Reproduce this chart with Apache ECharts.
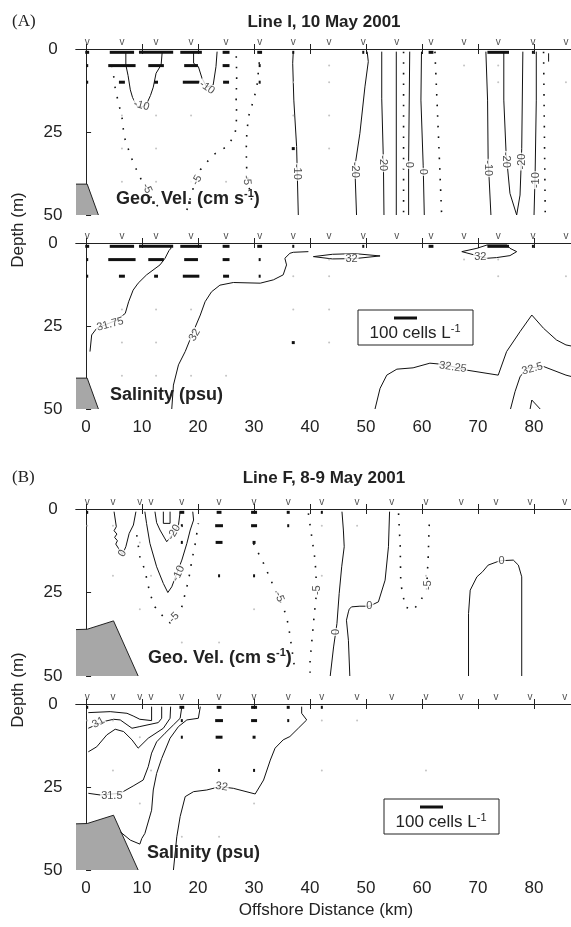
<!DOCTYPE html>
<html>
<head>
<meta charset="utf-8">
<script src="https://cdn.jsdelivr.net/npm/echarts@6/dist/echarts.min.js"></script>
<style>
  html, body { margin: 0; padding: 0; background: #fff; }
  #chart { width: 571px; height: 927px; }
</style>
</head>
<body>
<div id="chart"></div>
<script>
const FONT = 'Liberation Sans, Arial, Helvetica, sans-serif'

// axes
const xTicks = [0, 10, 20, 30, 40, 50, 60, 70, 80]
const xMin = -1.8
const xMax = 86.6
const depthMax = 50
const KM_PER_100_CELLS = 4.1

// station positions (km)
const stationsI = [0.2, 6.4, 12.5, 18.75, 25, 31, 37, 43.4, 49.5, 55.5, 61.6, 67.5, 73.6, 79.8, 85.7]
const stationsF = [0.2, 4.8, 9.6, 11.6, 17.1, 23.75, 30, 36.1, 42.1, 48.4, 54.6, 60.7, 67, 73.2, 79.3, 85.5]

// bottom profile [km, depth]
const bottomI = [[-1.8, 40.7], [0.2, 40.7], [2.2, 50]]
const bottomF = [[-1.8, 36.1], [0.2, 36], [4.9, 33.5], [9.3, 50]]

// cell counts [km, depth, cells per L]
const cellsI = [[0.2, 1, 17], [0.2, 5, 6], [0.2, 10, 8], [6.4, 1, 106], [6.4, 5, 119], [6.4, 10, 26],
  [12.5, 1, 149], [12.5, 5, 68], [12.5, 10, 17], [18.75, 1, 94], [18.75, 5, 60], [18.75, 10, 72],
  [25, 1, 30], [25, 5, 30], [25, 10, 26], [31, 1, 21], [31, 5, 4], [31, 10, 4], [37, 1, 8], [37, 30, 13],
  [49.5, 1, 8], [61.6, 1, 21], [73.6, 1, 94], [79.8, 1, 6]]
const cellsF = [[0.2, 1, 6], [17.1, 1, 21], [17.1, 5, 4], [17.1, 10, 4], [23.75, 1, 21], [23.75, 5, 34],
  [23.75, 10, 30], [23.75, 20, 6], [30, 1, 26], [30, 5, 26], [30, 10, 13], [30, 20, 5], [36.1, 1, 13],
  [36.1, 5, 6], [42.1, 1, 6]]

// empty samples [km, depth]
const samplesI = [[6.4, 20], [12.5, 20], [18.75, 20], [6.4, 30], [12.5, 30], [6.4, 40], [12.5, 40], [18.75, 40],
  [25, 40], [37, 10], [37, 20], [43.4, 5], [43.4, 10], [43.4, 20], [43.4, 30], [67.5, 5], [73.6, 5], [73.6, 10], [85.7, 10]]
const samplesF = [[0.2, 5], [4.8, 5], [9.6, 10], [11.6, 20], [9.6, 30], [17.1, 40], [23.75, 40], [30, 30],
  [42.1, 1], [42.1, 5], [42.1, 20], [48.4, 5], [60.7, 20], [4.8, 20]]

// Line I geostrophic velocity contours [km, depth]
const velI_a = [[7.1, 0.8], [7.1, 4.8], [7.5, 8], [7.9, 12.3], [8.3, 14.6], [9.05, 17.2], [10, 17.5], [10.8, 16.6], [11.5, 14], [12, 11.5], [12.5, 7.3], [13.4, 4.8], [13.6, 0.8]]
const velI_b = [[19.2, 0.8], [19.2, 4.3], [20.05, 5.3], [20.7, 8.8], [21.55, 11.5], [22.7, 10.8], [23.2, 5.3], [23.4, 0.8]]
const velI_c = [[37, 0.8], [36.9, 4.3], [37.1, 15.4], [37.6, 29.4], [37.9, 50]]
const velI_d = [[50.2, 0.8], [50.4, 3.8], [49.8, 11.4], [48.9, 25.4], [48, 35.5], [48.3, 50]]
const velI_e = [[52.8, 0.8], [52.8, 15], [53.1, 34], [53.2, 50]]
const velI_f = [[55.4, 0.8], [55.4, 50]]
const velI_g = [[57.8, 0.8], [57.6, 34], [57.6, 50]]
const velI_h = [[59.9, 0.8], [59.8, 15.4], [60.2, 35], [60.4, 50]]
const velI_i = [[71.4, 0.8], [71.7, 15.4], [71.8, 33], [72.3, 50]]
const velI_j = [[74.6, 0.8], [74.6, 15.4], [75, 31], [75.7, 43.5], [76.9, 50], [77.5, 44], [77.8, 30], [78, 0.8]]
const velI_k = [[80.4, 0.8], [80.4, 15.4], [80.2, 37], [80, 50]]
const velI_l = [[82.6, 1.3], [82.6, 3.8]]
const velI_n1 = [[4.6, 5], [4.9, 7.8], [5.2, 11.8], [5.8, 16.4], [6.4, 20.4], [6.8, 26.4], [7.6, 30.4], [8.45, 34.4], [9.6, 38.5], [10.8, 42.5], [12.3, 46.5], [13.8, 49]]
const velI_n2 = [[18, 48.5], [19.2, 41.5], [20.4, 36.4], [22.7, 31.9], [25.1, 29.4], [26.6, 25.9], [26.9, 20.4], [26.8, 15.4], [26.9, 8.3], [26.8, 0.8]]
const velI_n3 = [[31.1, 0.8], [30.8, 6.3], [30.5, 11.4], [29.9, 15.4], [29, 20.4], [28.7, 25.4], [28.6, 30.4], [28.7, 37.4], [29.3, 43.5], [29.9, 48]]
const velI_n4 = [[56.7, 0.8], [56.7, 50]]
const velI_n5 = [[62.3, 0.8], [62.9, 25], [63.5, 50]]
const velI_n6 = [[81.7, 0.8], [82, 50]]
const velILabels = [[9.9, 17, '-10', -15], [21.6, 11.6, '-10', -35], [10.9, 42, '-5', -65], [19.8, 39.5, '-5', 60],
  [28.7, 39.5, '-5', -85], [37.6, 37, '-10', -90], [48, 36.4, '-20', -90], [53.1, 34.4, '-20', -90], [57.6, 34.9, '0', -90],
  [60.2, 37, '0', -90], [71.7, 35.9, '-10', -90], [75, 33.4, '-20', -90], [77.9, 33.9, '-20', 90], [80.4, 39.5, '-10', 90]]

// Line I salinity contours
const salI_a = [[14.7, 0.6], [15.2, 1.5], [14.8, 2.3], [14.1, 4.6], [13.2, 6.6], [10.8, 9.6], [9.3, 12.1], [8.4, 14.2], [7.6, 17.7], [7, 21.2], [5.5, 23.2], [1.9, 25.7], [1, 27.7], [0.7, 32.7]]
const salI_b = [[15.3, 50], [15.6, 42.8], [16.5, 36.7], [17.7, 32.7], [18.9, 27.7], [20.4, 21.7], [21.25, 17.7], [22.4, 14.7], [23.9, 12.7], [26.3, 11.9], [31.1, 12.1], [33.45, 11.1], [35.2, 9.6], [35.8, 6.6], [35.5, 4.6], [36.4, 3.1], [37, 2.8], [39.7, 2.6]]
const salI_c = [[40.6, 4.1], [44, 3.4], [48, 3.2], [52.5, 3.9], [48, 4.7], [44, 4.8], [40.6, 4.1]]
const salI_d = [[67.1, 2.6], [69.8, 3.8], [71.6, 4.6], [73.3, 4.4], [75.7, 3.8], [76.9, 2.6], [75.7, 1.6], [75.2, 0.6], [71.6, 0.6], [69.8, 1.6], [67.1, 2.6]]
const salI_e = [[51.6, 50], [52.5, 43.8], [53.7, 39.8], [55.5, 38], [58.4, 37.6], [61.4, 36.2], [64, 36.6], [68, 38.3], [73.6, 39.8], [75.1, 32.7], [77.5, 26.7], [79.6, 21.7], [81.7, 25.7], [84, 29.2], [85.7, 30.7], [88, 31.5]]
const salI_f = [[75.8, 50], [76.6, 44.8], [77.5, 40.3], [78.7, 37.7], [81.7, 37.2], [85.7, 39.8], [88, 40.8]]
const salI_g = [[79.3, 50], [79.6, 47.3], [81.1, 50]]
const salILabels = [[4.3, 24.5, '31.75', 15], [19.4, 27.7, '32', 60], [47.4, 4.9, '32', 0], [70.4, 4.1, '32', 0],
  [65.5, 37.4, '32.25', -8], [79.7, 37.9, '32.5', 15]]

// Line F geostrophic velocity contours
const velF_a = [[5, 0.8], [5.2, 1.3], [5.4, 5.3], [5, 6.5], [5.5, 7.5], [5.1, 8.5], [5.6, 9.5], [5.3, 10.5], [5.8, 11.8], [6.5, 13.6], [7.1, 11.3], [7.7, 7.3], [8.45, 4.8], [8.75, 4.3], [8.9, 0.8]]
const velF_b = [[10.5, 0.8], [10.8, 4.3], [11.4, 10.3], [12.6, 17.3], [13.8, 22.3], [14.6, 25], [15.3, 23.3], [16.2, 19.3], [17.1, 15.3], [18, 10.3], [18.6, 6.3], [19.2, 3.3], [19.05, 0.8]]
const velF_c = [[12.3, 0.8], [12.6, 4.1], [13.2, 6.3], [14.4, 9.8], [15.6, 7.3], [16.5, 4.8], [16.8, 0.8]]
const velF_d = [[13.8, 0.8], [13.8, 4.3], [15, 4.3], [15, 0.8]]
const velF_e = [[45.7, 0.8], [45.95, 6.3], [46.1, 11.3], [45.65, 17.3], [45.2, 25.3], [44.8, 34.3], [44.2, 41.3], [43.6, 50]]
const velF_f = [[54.2, 0.8], [54, 11.3], [53.4, 21.3], [52.2, 27.8], [50.6, 29.1], [48.9, 29.1], [47.4, 29.3], [47, 30], [47.3, 30.5], [46.85, 30.8], [46.5, 33.3], [46.85, 39.3], [47.1, 50]]
const velF_g = [[68.3, 50], [68.3, 31.3], [68.6, 24.3], [69.8, 20.3], [70.8, 18.8], [71.8, 16.8], [73.9, 15.5], [76.3, 15.3], [77.2, 16.8], [77.8, 20.3], [77.8, 50]]
const velF_n1 = [[9.05, 7.8], [9.6, 14.3], [10.5, 18.3], [11.4, 25.3], [12.3, 29.3], [13.8, 32.3], [15, 34.1], [16.2, 32.5], [17.1, 29.3], [17.7, 25.3], [18.3, 21.3], [18.9, 15.3], [19.5, 10.3], [20.05, 4.3]]
const velF_n2 = [[29.9, 10.3], [31.7, 16.3], [34.3, 26.3], [35.5, 30.8], [36.1, 34.5], [36.4, 37.8], [37.3, 48.3]]
const velF_n3 = [[39.7, 1.3], [40.3, 8.3], [40.9, 15.3], [41.2, 24.3], [40.6, 34.3], [40, 45.4], [40, 49]]
const velF_n4 = [[55.8, 1.3], [56.1, 11.3], [56.2, 22.3], [57, 29.3], [58.4, 30.3], [59.6, 27.8], [60.8, 24.3], [61.1, 14.3], [61.3, 3.8]]
const velFLabels = [[6.5, 13.3, '0', 60], [15.7, 7, '-20', 60], [16.5, 19.3, '-10', 65], [15.7, 32.5, '-5', 45],
  [34.5, 26.3, '-5', -70], [41.2, 24.3, '-5', 90], [44.6, 36.8, '0', 90], [50.6, 29.1, '0', 0], [61.1, 22.8, '-5', 90], [74.2, 15.5, '0', 0]]

// Line F salinity contours
const salF_a = [[0.4, 2.6], [4.3, 2.3], [7.3, 2.8], [8.4, 3.6], [9.6, 4.6], [11.7, 5], [11.7, 0.8]]
const salF_b = [[0.4, 7.3], [3.1, 5.3], [4.9, 4.6], [6.1, 4.8], [8.2, 7.3], [9.6, 6.8], [12.9, 5.6], [13.5, 4.3], [13.5, 0.8]]
const salF_c = [[0.4, 14.4], [1.9, 12.9], [3.7, 9.3], [5.2, 7.6], [6.7, 8.3], [8.2, 10.8], [9.3, 13.3], [11.1, 10.3], [13.8, 7.3], [15, 4.3], [15.1, 0.8]]
const salF_d = [[0.4, 26.9], [2.5, 27.4], [6.1, 26.9], [8.4, 24.7], [10.2, 22.9], [11.1, 18.9], [11.7, 14.8], [12.6, 11.4], [14.1, 8.8], [15.6, 6.3], [16.8, 4.3], [17.1, 0.8]]
const salF_e = [[6.1, 38.5], [7.9, 41], [9.6, 42.2], [9.95, 40.5], [10.5, 39], [11.7, 32], [12, 25.9], [12.6, 20.9], [13.5, 16.4], [15, 10.3], [16.5, 6.8], [18, 4.8], [20.05, 4.3], [20.4, 0.8]]
const salF_f = [[15.6, 50], [16.2, 40], [16.8, 33.9], [17.7, 27.9], [19.2, 26.4], [21.55, 25.9], [23.9, 24.9], [26.3, 25.4], [30.2, 27.1], [31.7, 22.9], [32.9, 16.9], [33.75, 13.3], [35.2, 10.8], [36.4, 9.8], [37.9, 7.3], [39.4, 4.8], [38.5, 2.8], [38.5, 0.8]]
const salFLabels = [[2.2, 5.6, '31', 30], [4.6, 27.6, '31.5', 0], [24.2, 24.9, '32', -8]]

const panels = [
  { top: 49, height: 166, stations: stationsI, bottom: bottomI, cells: cellsI, samples: samplesI, labels: velILabels, showX: false,
    solid: [velI_a, velI_b, velI_c, velI_d, velI_e, velI_f, velI_g, velI_h, velI_i, velI_j, velI_k, velI_l],
    dotted: [velI_n1, velI_n2, velI_n3, velI_n4, velI_n5, velI_n6] },
  { top: 243, height: 166, stations: stationsI, bottom: bottomI, cells: cellsI, samples: samplesI, labels: salILabels, showX: true,
    solid: [salI_a, salI_b, salI_c, salI_d, salI_e, salI_f, salI_g], dotted: [] },
  { top: 509, height: 167, stations: stationsF, bottom: bottomF, cells: cellsF, samples: samplesF, labels: velFLabels, showX: false,
    solid: [velF_a, velF_b, velF_c, velF_d, velF_e, velF_f, velF_g], dotted: [velF_n1, velF_n2, velF_n3, velF_n4] },
  { top: 704, height: 166, stations: stationsF, bottom: bottomF, cells: cellsF, samples: samplesF, labels: salFLabels, showX: true,
    solid: [salF_a, salF_b, salF_c, salF_d, salF_e, salF_f], dotted: [] }
]

const grid = []
const xAxis = []
const yAxis = []
const series = []
const axisLine = { show: true, lineStyle: { color: '#222', width: 1 } }

panels.forEach((p, i) => {
  grid.push({ left: 76, top: p.top, right: 0, height: p.height })
  xAxis.push({
    gridIndex: i, type: 'value', min: xMin, max: xMax, position: 'bottom',
    axisLine, splitLine: { show: false },
    axisTick: { show: true, inside: true, length: 5, customValues: xTicks, lineStyle: { color: '#222' } },
    axisLabel: { show: p.showX, customValues: xTicks, fontSize: 17, color: '#222', fontFamily: FONT, margin: 10 }
  })
  xAxis.push({
    gridIndex: i, type: 'value', min: xMin, max: xMax, position: 'top',
    axisLine, splitLine: { show: false },
    axisTick: { show: true, inside: true, length: 5, customValues: xTicks, lineStyle: { color: '#222' } },
    axisLabel: { show: false }
  })
  yAxis.push({
    gridIndex: i, type: 'value', inverse: true, min: 0, max: depthMax, interval: 25,
    axisLine, splitLine: { show: false },
    axisTick: { show: true, inside: true, length: 5, lineStyle: { color: '#222' } },
    axisLabel: { fontSize: 17, color: '#222', fontFamily: FONT, align: 'center', margin: 23 }
  })
  const ax = { xAxisIndex: 2 * i, yAxisIndex: i }

  series.push({
    type: 'line', ...ax, data: p.bottom, showSymbol: false, silent: true, z: 1,
    lineStyle: { color: '#222', width: 1 },
    areaStyle: { color: '#a7a7a7', opacity: 1, origin: 'end' }
  })
  p.solid.forEach(c => series.push({
    type: 'line', ...ax, data: c, showSymbol: false, silent: true, z: 2,
    lineStyle: { color: '#111', width: 1 }
  }))
  p.dotted.forEach(c => series.push({
    type: 'line', ...ax, data: c, showSymbol: false, silent: true, z: 2,
    lineStyle: { color: '#111', width: 1.6, type: [1.6, 9] }
  }))
  series.push({
    type: 'scatter', ...ax, data: p.samples, symbolSize: 2, silent: true, z: 2,
    itemStyle: { color: '#b5b5b5' }
  })
  series.push({
    type: 'custom', ...ax, data: p.cells, silent: true, z: 3, clip: false,
    renderItem: (params, api) => {
      const c = api.coord([api.value(0), api.value(1)])
      const w = Math.max(api.size([api.value(2) * KM_PER_100_CELLS / 100, 0])[0], 2)
      return { type: 'rect', shape: { x: c[0] - w / 2, y: c[1] - 1.5, width: w, height: 3 }, style: { fill: '#111' } }
    }
  })
  series.push({
    type: 'scatter', ...ax, silent: true, z: 4, clip: false, symbolSize: 1,
    itemStyle: { color: 'rgba(0,0,0,0)' },
    data: p.labels.map(l => ({ value: [l[0], l[1]], name: l[2], label: { rotate: l[3] } })),
    label: { show: true, position: 'inside', formatter: '{b}', fontSize: 11, color: '#222', fontFamily: FONT,
      backgroundColor: '#fff', padding: [0, 1] }
  })
  series.push({
    type: 'scatter', ...ax, silent: true, z: 4, clip: false, symbolSize: 1,
    itemStyle: { color: 'rgba(0,0,0,0)' },
    data: p.stations.map(s => [s, 0]),
    label: { show: true, position: 'top', distance: 1, formatter: 'v', fontSize: 10, color: '#222', fontFamily: FONT }
  })
})

const boldText = (x, y, main) => ({
  type: 'text', x, y, z: 10,
  style: {
    text: '{b|' + main + '}', verticalAlign: 'middle',
    rich: { b: { fontSize: 18, fontWeight: 'bold', fontFamily: FONT, fill: '#222', lineHeight: 22 } }
  }
})
const velText = (x, y) => ({
  type: 'text', x, y, z: 10,
  style: {
    text: '{b|Geo. Vel. (cm s}{s|-1}{b|)}', verticalAlign: 'middle',
    rich: {
      b: { fontSize: 18, fontWeight: 'bold', fontFamily: FONT, fill: '#222', lineHeight: 22 },
      s: { fontSize: 11, fontWeight: 'bold', fontFamily: FONT, fill: '#222', lineHeight: 13, verticalAlign: 'top' }
    }
  }
})
const cellsLegend = (x, y) => ([
  { type: 'rect', z: 10, shape: { x, y, width: 115, height: 35 }, style: { fill: '#fff', stroke: '#222', lineWidth: 1 } },
  { type: 'line', z: 11, shape: { x1: x + 36, y1: y + 8, x2: x + 59, y2: y + 8 }, style: { stroke: '#111', lineWidth: 3 } },
  { type: 'text', z: 11, x: x + 57, y: y + 23,
    style: {
      text: '{n|100 cells L}{s|-1}', align: 'center', verticalAlign: 'middle',
      rich: {
        n: { fontSize: 17, fontFamily: FONT, fill: '#222', lineHeight: 20 },
        s: { fontSize: 11, fontFamily: FONT, fill: '#222', lineHeight: 12, verticalAlign: 'top' }
      }
    } }
])

const graphic = [
  { type: 'text', x: 12, y: 22, style: { text: '(A)', fontSize: 17, fontFamily: 'Liberation Serif, Times New Roman, serif', fill: '#222', verticalAlign: 'middle' } },
  { type: 'text', x: 12, y: 478, style: { text: '(B)', fontSize: 17, fontFamily: 'Liberation Serif, Times New Roman, serif', fill: '#222', verticalAlign: 'middle' } },
  { type: 'text', x: 324, y: 22, style: { text: 'Line I, 10 May 2001', fontSize: 17, fontWeight: 'bold', fontFamily: FONT, fill: '#222', align: 'center', verticalAlign: 'middle' } },
  { type: 'text', x: 324, y: 478, style: { text: 'Line F, 8-9 May 2001', fontSize: 17, fontWeight: 'bold', fontFamily: FONT, fill: '#222', align: 'center', verticalAlign: 'middle' } },
  { type: 'text', x: 18, y: 230, rotation: Math.PI / 2, style: { text: 'Depth (m)', fontSize: 17, fontFamily: FONT, fill: '#222', align: 'center', verticalAlign: 'middle' } },
  { type: 'text', x: 18, y: 690, rotation: Math.PI / 2, style: { text: 'Depth (m)', fontSize: 17, fontFamily: FONT, fill: '#222', align: 'center', verticalAlign: 'middle' } },
  { type: 'text', x: 326, y: 910, style: { text: 'Offshore Distance (km)', fontSize: 17, fontFamily: FONT, fill: '#222', align: 'center', verticalAlign: 'middle' } },
  velText(116, 199),
  velText(148, 658),
  boldText(110, 395, 'Salinity (psu)'),
  boldText(147, 853, 'Salinity (psu)'),
  ...cellsLegend(358, 310),
  ...cellsLegend(384, 799)
]

const chart = echarts.init(document.getElementById('chart'))
chart.setOption({
  animation: false,
  backgroundColor: '#fff',
  grid, xAxis, yAxis, series, graphic
})
</script>
</body>
</html>
